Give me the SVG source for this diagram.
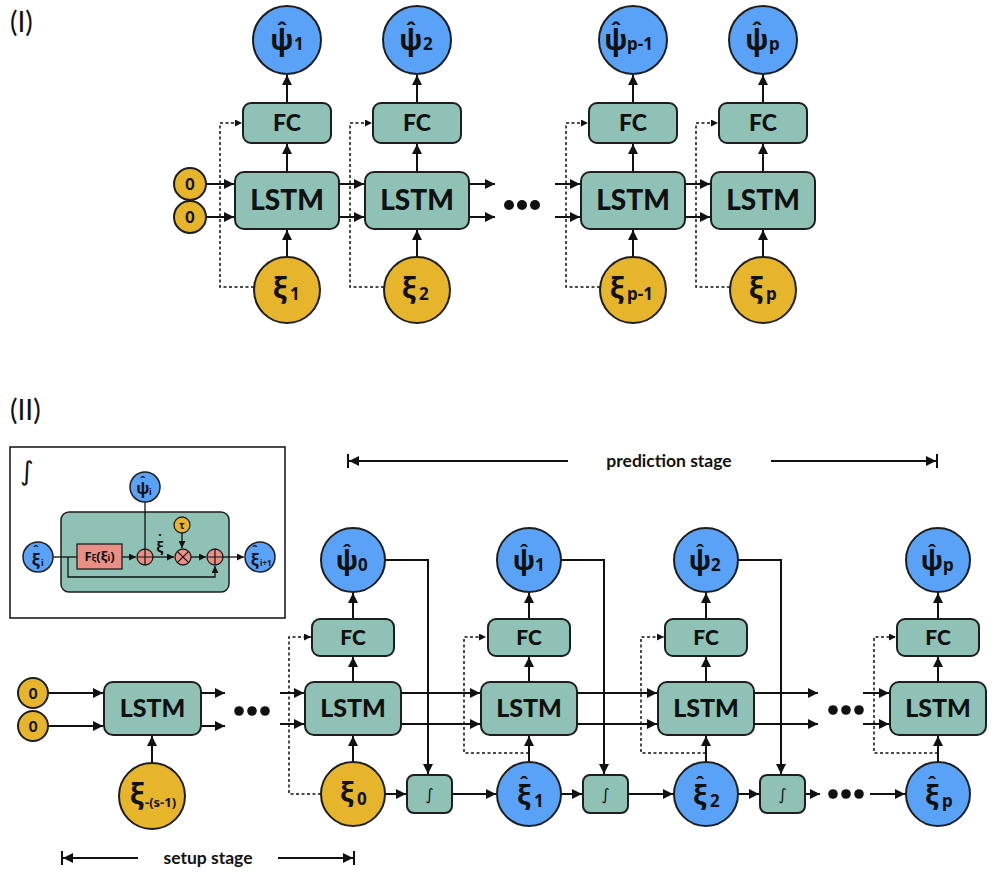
<svg xmlns="http://www.w3.org/2000/svg" width="996" height="874" viewBox="0 0 996 874">
<style>
.b{fill:#8fc1b7;stroke:#1e1e1e;stroke-width:2}
.bl{fill:#5aa2f7;stroke:#1e1e1e;stroke-width:2}
.gd{fill:#e6b52c;stroke:#1e1e1e;stroke-width:2}
.sm{fill:#e98f85;stroke:#1e1e1e;stroke-width:1.3}
.c{fill:none;stroke:#111;stroke-width:2}
.ci{fill:none;stroke:#111;stroke-width:1.3}
.d{fill:none;stroke:#111;stroke-width:1.5;stroke-dasharray:3 2.5}
.t{font-family:Lato,"Noto Sans","DejaVu Sans",sans-serif;font-weight:900;fill:#111;text-anchor:middle}
.g{font-family:"Noto Sans","DejaVu Sans",sans-serif;font-weight:bold;fill:#111}
.m{text-anchor:middle}
.L1{font-size:28px}.F1{font-size:23px}.L2{font-size:25px}.F2{font-size:21px}
.P{font-size:28px}.S{font-size:17px}.H{font-size:22px}.H2{font-size:20px}
.dot{fill:#111}
.it{font-family:"DejaVu Sans",sans-serif;font-size:16px;fill:#111;text-anchor:middle}
</style>
<defs>
<marker id="a" viewBox="0 0 10 10" refX="10" refY="5" markerWidth="11" markerHeight="10" markerUnits="userSpaceOnUse" orient="auto-start-reverse"><path d="M0,0L10,5L0,10z" fill="#111"/></marker>
<marker id="s" viewBox="0 0 10 10" refX="10" refY="5" markerWidth="8" markerHeight="7" markerUnits="userSpaceOnUse" orient="auto-start-reverse"><path d="M0,0L10,5L0,10z" fill="#111"/></marker>
</defs>

<text x="10" y="32" style="font-family:Lato,'Noto Sans',sans-serif;font-size:28px;fill:#111">(I)</text>
<text x="10" y="420" style="font-family:Lato,'Noto Sans',sans-serif;font-size:28px;fill:#111">(II)</text>

<!-- connectors -->
<g id="connectors">
 <g class="c" marker-end="url(#a)">
  <path d="M206,184H234"/><path d="M206,217H234"/>
  <path d="M339,184H364"/><path d="M339,217H364"/>
  <path d="M469,184H495"/><path d="M469,217H495"/>
  <path d="M555,184H580"/><path d="M555,217H580"/>
  <path d="M685,184H710"/><path d="M685,217H710"/>
  <path d="M287,172V144"/><path d="M287,103V75"/><path d="M287,257V230"/>
  <path d="M417,172V144"/><path d="M417,103V75"/><path d="M417,257V230"/>
  <path d="M633,172V144"/><path d="M633,103V75"/><path d="M633,257V230"/>
  <path d="M763,172V144"/><path d="M763,103V75"/><path d="M763,257V230"/>
 </g>
 <g class="d" marker-end="url(#s)">
  <path d="M254,287H220V123H242"/>
  <path d="M384,287H350V123H372"/>
  <path d="M600,287H566V123H588"/>
  <path d="M730,287H696V123H718"/>
 </g>
 <g class="c" marker-end="url(#a)">
  <path d="M48,693H103"/><path d="M48,726H103"/>
  <path d="M201,693H225"/><path d="M201,726H225"/>
  <path d="M280,693H304"/><path d="M280,724H304"/>
  <path d="M401,693H480"/><path d="M401,724H480"/>
  <path d="M577,693H657"/><path d="M577,724H657"/>
  <path d="M754,693H818"/><path d="M754,724H818"/>
  <path d="M863,693H889"/><path d="M863,724H889"/>
  <path d="M152,763V736"/>
  <path d="M353,682V657"/><path d="M353,619V593"/><path d="M353,762V736"/>
  <path d="M529,682V657"/><path d="M529,619V593"/><path d="M529,762V736"/>
  <path d="M706,682V657"/><path d="M706,619V593"/><path d="M706,762V736"/>
  <path d="M938,682V657"/><path d="M938,619V593"/><path d="M938,762V736"/>
  <path d="M385,560H428V774"/>
  <path d="M561,560H604V774"/>
  <path d="M738,560H781V774"/>
  <path d="M385,794H406"/><path d="M452,794H496"/>
  <path d="M561,794H582"/><path d="M628,794H673"/>
  <path d="M738,794H759"/><path d="M805,794H820"/>
  <path d="M870,794H905"/>
  <path d="M568,461H349"/><path d="M771,461H936"/>
  <path d="M138,858H63"/><path d="M278,858H353"/>
 </g>
 <g class="c">
  <path d="M348,454V468"/><path d="M937,454V468"/>
  <path d="M62,851V865"/><path d="M354,851V865"/>
 </g>
 <g class="d" marker-end="url(#s)">
  <path d="M321,794H289V637H311"/>
  <path d="M529,753H464V637H486"/>
  <path d="M706,753H641V637H664"/>
  <path d="M938,753H874V637H896"/>
 </g>
 <g class="dot">
  <circle cx="509" cy="205" r="5"/><circle cx="522" cy="205" r="5"/><circle cx="535" cy="205" r="5"/>
  <circle cx="239" cy="711" r="4.8"/><circle cx="252" cy="711" r="4.8"/><circle cx="265" cy="711" r="4.8"/>
  <circle cx="833" cy="710" r="4.8"/><circle cx="846" cy="710" r="4.8"/><circle cx="859" cy="710" r="4.8"/>
  <circle cx="833" cy="794" r="4.8"/><circle cx="846" cy="794" r="4.8"/><circle cx="859" cy="794" r="4.8"/>
 </g>
</g>

<text x="669" y="467" style="font-family:Lato,'Noto Sans',sans-serif;font-weight:bold;font-size:17.5px;fill:#111;text-anchor:middle">prediction stage</text>
<text x="208" y="864" style="font-family:Lato,'Noto Sans',sans-serif;font-weight:bold;font-size:17.5px;fill:#111;text-anchor:middle">setup stage</text>

<!-- Part I nodes -->
<g id="I-zero1"><circle class="gd" cx="190" cy="184" r="16"/><text class="t" x="190" y="190" style="font-size:16px">0</text></g>
<g id="I-zero2"><circle class="gd" cx="190" cy="217" r="16"/><text class="t" x="190" y="223" style="font-size:16px">0</text></g>

<g id="I-psi1"><circle class="bl" cx="287" cy="40" r="34"/><text class="g"><tspan class="H m" x="282" y="38">ˆ</tspan><tspan class="P m" x="282" y="50">ψ</tspan><tspan class="S" x="294" y="50">1</tspan></text></g>
<g id="I-fc1"><rect class="b" x="243" y="103" width="88" height="40" rx="8"/><text class="t F1" x="287" y="131">FC</text></g>
<g id="I-lstm1"><rect class="b" x="235" y="172" width="104" height="57" rx="9"/><text class="t L1" x="287" y="210">LSTM</text></g>
<g id="I-xi1"><circle class="gd" cx="287" cy="290" r="33"/><text class="g"><tspan class="P m" x="280" y="298">ξ</tspan><tspan class="S" x="290" y="300">1</tspan></text></g>

<g id="I-psi2"><circle class="bl" cx="417" cy="40" r="34"/><text class="g"><tspan class="H m" x="411" y="38">ˆ</tspan><tspan class="P m" x="411" y="50">ψ</tspan><tspan class="S" x="423" y="50">2</tspan></text></g>
<g id="I-fc2"><rect class="b" x="373" y="103" width="88" height="40" rx="8"/><text class="t F1" x="417" y="131">FC</text></g>
<g id="I-lstm2"><rect class="b" x="365" y="172" width="104" height="57" rx="9"/><text class="t L1" x="417" y="210">LSTM</text></g>
<g id="I-xi2"><circle class="gd" cx="417" cy="290" r="33"/><text class="g"><tspan class="P m" x="409" y="298">ξ</tspan><tspan class="S" x="419" y="300">2</tspan></text></g>

<g id="I-psi3"><circle class="bl" cx="633" cy="40" r="34"/><text class="g"><tspan class="H m" x="616" y="38">ˆ</tspan><tspan class="P m" x="616" y="50">ψ</tspan><tspan class="S" x="627" y="50">p-1</tspan></text></g>
<g id="I-fc3"><rect class="b" x="589" y="103" width="88" height="40" rx="8"/><text class="t F1" x="633" y="131">FC</text></g>
<g id="I-lstm3"><rect class="b" x="581" y="172" width="104" height="57" rx="9"/><text class="t L1" x="633" y="210">LSTM</text></g>
<g id="I-xi3"><circle class="gd" cx="633" cy="290" r="33"/><text class="g"><tspan class="P m" x="617" y="298">ξ</tspan><tspan class="S" x="627" y="300">p-1</tspan></text></g>

<g id="I-psi4"><circle class="bl" cx="763" cy="40" r="34"/><text class="g"><tspan class="H m" x="757" y="38">ˆ</tspan><tspan class="P m" x="757" y="50">ψ</tspan><tspan class="S" x="769" y="50">p</tspan></text></g>
<g id="I-fc4"><rect class="b" x="719" y="103" width="88" height="40" rx="8"/><text class="t F1" x="763" y="131">FC</text></g>
<g id="I-lstm4"><rect class="b" x="711" y="172" width="104" height="57" rx="9"/><text class="t L1" x="763" y="210">LSTM</text></g>
<g id="I-xi4"><circle class="gd" cx="763" cy="290" r="33"/><text class="g"><tspan class="P m" x="756" y="298">ξ</tspan><tspan class="S" x="766" y="300">p</tspan></text></g>

<!-- Inset -->
<g id="inset">
 <rect x="10" y="447" width="275" height="171" fill="#fff" stroke="#111" stroke-width="1.5"/>
 <text x="20" y="480" style="font-family:'DejaVu Sans',sans-serif;font-size:26px;fill:#111">∫</text>
 <rect class="b" x="61" y="512" width="168" height="80" rx="8" style="stroke-width:1.5"/>
 <g class="ci">
  <path d="M53,557H77"/>
  <path d="M68,557V577H215V566" marker-end="url(#s)"/>
  <path d="M122,557H136" marker-end="url(#s)"/>
  <path d="M145,502V549"/>
  <path d="M153,557H174" marker-end="url(#s)"/>
  <path d="M182,533V548" marker-end="url(#s)"/>
  <path d="M191,557H206" marker-end="url(#s)"/>
  <path d="M223,557H244" marker-end="url(#s)"/>
 </g>
 <g id="inset-xi"><circle class="bl" cx="38" cy="557" r="15" style="stroke-width:1.5"/><text class="g"><tspan class="m" style="font-size:12px" x="36" y="555">ˆ</tspan><tspan class="m" style="font-size:16px" x="36" y="565">ξ</tspan><tspan style="font-size:9px" x="41" y="566">i</tspan></text></g>
 <g id="inset-psi"><circle class="bl" cx="145" cy="487" r="15" style="stroke-width:1.5"/><text class="g"><tspan class="m" style="font-size:12px" x="143" y="486">ˆ</tspan><tspan class="m" style="font-size:16px" x="143" y="494">ψ</tspan><tspan style="font-size:9px" x="149" y="495">i</tspan></text></g>
 <g id="inset-F"><rect class="sm" x="77" y="544" width="45" height="25"/><text class="g m" x="99.5" y="561"><tspan style="font-size:13px">F</tspan><tspan style="font-size:9px">ξ</tspan><tspan style="font-size:13px">(ξ</tspan><tspan style="font-size:9px">i</tspan><tspan style="font-size:13px">)</tspan></text></g>
 <g id="inset-add1"><circle class="sm" cx="145" cy="557" r="8"/><path d="M137,557H153M145,549V565" stroke="#111" stroke-width="1.2"/></g>
 <text class="g"><tspan class="m" style="font-size:14px" x="160" y="545">˙</tspan><tspan class="m" style="font-size:14px" x="160" y="552">ξ</tspan></text>
 <g id="inset-tau"><circle class="gd" cx="182" cy="525" r="8" style="stroke-width:1.3"/><text class="g m" x="182" y="529" style="font-size:10px">τ</text></g>
 <g id="inset-mul"><circle class="sm" cx="183" cy="557" r="8"/><path d="M177.3,551.3L188.7,562.7M188.7,551.3L177.3,562.7" stroke="#111" stroke-width="1.2"/></g>
 <g id="inset-add2"><circle class="sm" cx="215" cy="557" r="8"/><path d="M207,557H223M215,549V565" stroke="#111" stroke-width="1.2"/></g>
 <g id="inset-xi1"><circle class="bl" cx="260" cy="557" r="15" style="stroke-width:1.5"/><text class="g"><tspan class="m" style="font-size:12px" x="255" y="555">ˆ</tspan><tspan class="m" style="font-size:16px" x="255" y="565">ξ</tspan><tspan style="font-size:8px" x="260" y="566">i+1</tspan></text></g>
</g>

<!-- Part II nodes -->
<g id="II-zero1"><circle class="gd" cx="33" cy="693" r="15"/><text class="t" x="33" y="699" style="font-size:15px">0</text></g>
<g id="II-zero2"><circle class="gd" cx="33" cy="726" r="15"/><text class="t" x="33" y="732" style="font-size:15px">0</text></g>
<g id="II-lstmS"><rect class="b" x="104" y="682" width="97" height="53" rx="9"/><text class="t L2" x="152.5" y="717">LSTM</text></g>
<g id="II-xiS"><circle class="gd" cx="152" cy="796" r="33"/><text class="g"><tspan class="m" style="font-size:28px" x="137" y="804">ξ</tspan><tspan style="font-size:13px" x="145" y="807">-(s-1)</tspan></text></g>

<g id="II-psi0"><circle class="bl" cx="353" cy="560" r="32"/><text class="g"><tspan class="H2 m" x="347" y="559">ˆ</tspan><tspan class="m" style="font-size:27px" x="347" y="570">ψ</tspan><tspan class="S" x="358" y="571">0</tspan></text></g>
<g id="II-fc0"><rect class="b" x="312" y="619" width="82" height="37" rx="8"/><text class="t F2" x="353" y="645">FC</text></g>
<g id="II-lstm0"><rect class="b" x="305" y="682" width="96" height="53" rx="9"/><text class="t L2" x="353" y="717">LSTM</text></g>
<g id="II-xi0"><circle class="gd" cx="353" cy="794" r="32"/><text class="g"><tspan class="m" style="font-size:27px" x="347" y="802">ξ</tspan><tspan class="S" x="357" y="805">0</tspan></text></g>
<g id="II-int1"><rect class="b" x="407" y="775" width="45" height="38" rx="7"/><text class="it" x="429.5" y="800">∫</text></g>

<g id="II-psi1"><circle class="bl" cx="529" cy="560" r="32"/><text class="g"><tspan class="H2 m" x="524" y="559">ˆ</tspan><tspan class="m" style="font-size:27px" x="524" y="570">ψ</tspan><tspan class="S" x="535" y="571">1</tspan></text></g>
<g id="II-fc1"><rect class="b" x="488" y="619" width="82" height="37" rx="8"/><text class="t F2" x="529" y="645">FC</text></g>
<g id="II-lstm1"><rect class="b" x="481" y="682" width="96" height="53" rx="9"/><text class="t L2" x="529" y="717">LSTM</text></g>
<g id="II-xi1"><circle class="bl" cx="529" cy="794" r="32"/><text class="g"><tspan class="H2 m" x="524" y="791">ˆ</tspan><tspan class="m" style="font-size:27px" x="524" y="805">ξ</tspan><tspan class="S" x="534" y="807">1</tspan></text></g>
<g id="II-int2"><rect class="b" x="583" y="775" width="45" height="38" rx="7"/><text class="it" x="605.5" y="800">∫</text></g>

<g id="II-psi2"><circle class="bl" cx="706" cy="560" r="32"/><text class="g"><tspan class="H2 m" x="700" y="559">ˆ</tspan><tspan class="m" style="font-size:27px" x="700" y="570">ψ</tspan><tspan class="S" x="711" y="571">2</tspan></text></g>
<g id="II-fc2"><rect class="b" x="665" y="619" width="82" height="37" rx="8"/><text class="t F2" x="706" y="645">FC</text></g>
<g id="II-lstm2"><rect class="b" x="658" y="682" width="96" height="53" rx="9"/><text class="t L2" x="706" y="717">LSTM</text></g>
<g id="II-xi2"><circle class="bl" cx="706" cy="794" r="32"/><text class="g"><tspan class="H2 m" x="700" y="791">ˆ</tspan><tspan class="m" style="font-size:27px" x="700" y="805">ξ</tspan><tspan class="S" x="710" y="807">2</tspan></text></g>
<g id="II-int3"><rect class="b" x="760" y="775" width="45" height="38" rx="7"/><text class="it" x="782.5" y="800">∫</text></g>

<g id="II-psip"><circle class="bl" cx="938" cy="560" r="32"/><text class="g"><tspan class="H2 m" x="932" y="559">ˆ</tspan><tspan class="m" style="font-size:27px" x="932" y="570">ψ</tspan><tspan class="S" x="943" y="571">p</tspan></text></g>
<g id="II-fcp"><rect class="b" x="897" y="619" width="82" height="37" rx="8"/><text class="t F2" x="938" y="645">FC</text></g>
<g id="II-lstmp"><rect class="b" x="890" y="682" width="96" height="53" rx="9"/><text class="t L2" x="938" y="717">LSTM</text></g>
<g id="II-xip"><circle class="bl" cx="938" cy="794" r="32"/><text class="g"><tspan class="H2 m" x="932" y="791">ˆ</tspan><tspan class="m" style="font-size:27px" x="932" y="805">ξ</tspan><tspan class="S" x="942" y="807">p</tspan></text></g>
</svg>
